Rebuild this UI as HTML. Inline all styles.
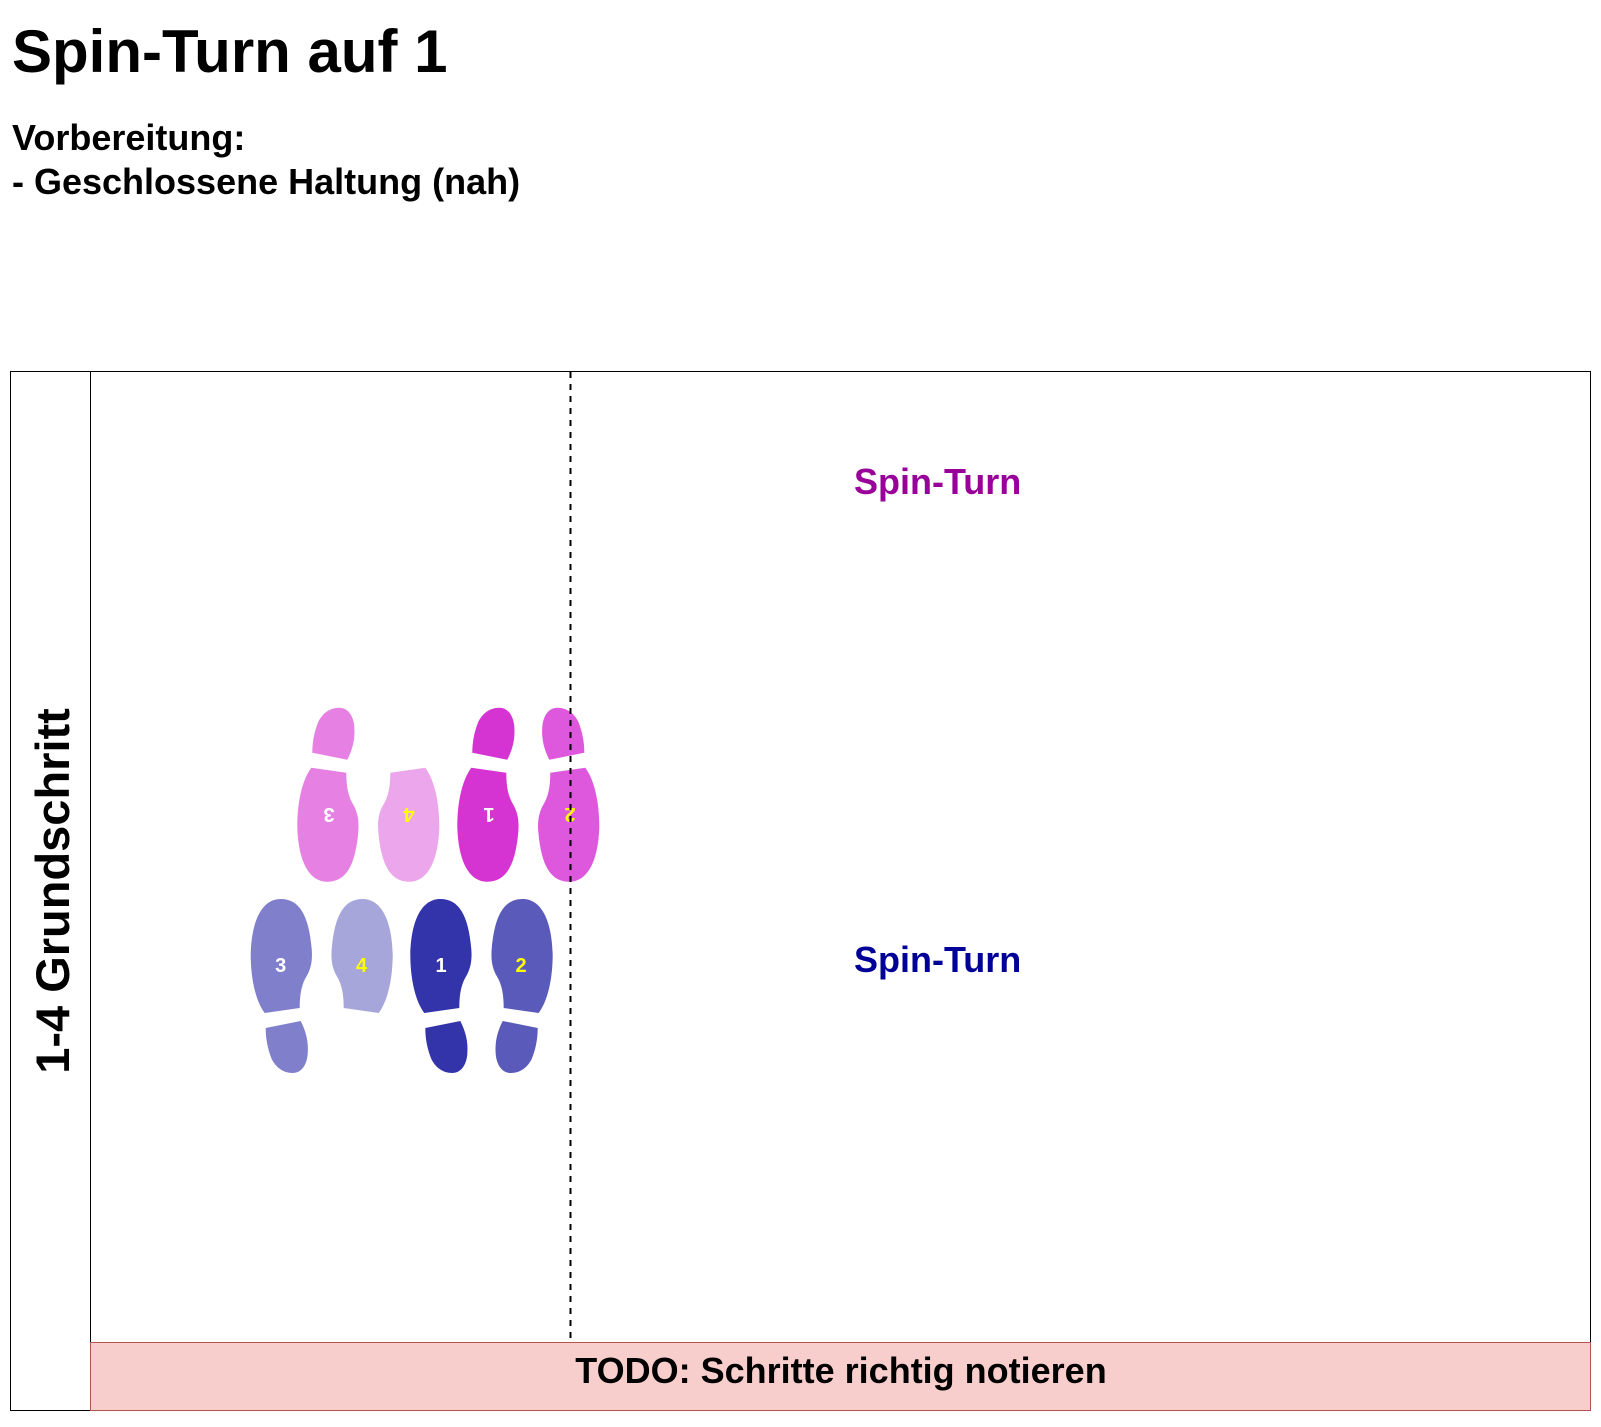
<!DOCTYPE html>
<html><head><meta charset="utf-8"><style>
html,body{margin:0;padding:0;background:#fff;}
body{width:1601px;height:1422px;overflow:hidden;}
</style></head><body>
<svg width="1601" height="1422" viewBox="0 0 1601 1422" xmlns="http://www.w3.org/2000/svg" font-family="Liberation Sans, Arial, sans-serif">
<defs>
<path id="sole" d="M30,0 C48,0 58,15 61,50 C62,62 60,70 56,77 C51,85 49,95 49,109 L14,114 C5,102 0,80 0,55 C1,20 12,0 30,0 Z"/>
<path id="heel" d="M15,129 L50,122 C55,132 58,142 57,155 C56,167 50,174 42,174 C32,174 25,168 21,160 C17,150 15,140 15,129 Z"/>
</defs>
<text x="12" y="72" font-size="60" font-weight="bold" fill="#000">Spin-Turn auf 1</text>
<text x="12" y="150" font-size="36" font-weight="bold" fill="#000">Vorbereitung:</text>
<text x="12" y="194" font-size="36" font-weight="bold" fill="#000">- Geschlossene Haltung (nah)</text>

<rect x="10.5" y="371.5" width="1580" height="1039" fill="#fff" stroke="#000" stroke-width="1"/>
<line x1="90.5" y1="371" x2="90.5" y2="1411" stroke="#000"/>
<rect x="90.5" y="1342.5" width="1500" height="68" fill="#f8cecc" stroke="#b85450"/>
<text x="841" y="1383" font-size="36" font-weight="bold" text-anchor="middle" fill="#000">TODO: Schritte richtig notieren</text>
<text transform="translate(69,891) rotate(-90)" font-size="47" font-weight="bold" text-anchor="middle" fill="#000">1-4 Grundschritt</text>

<text x="854" y="494" font-size="36" font-weight="bold" fill="#990099">Spin-Turn</text>
<text x="854" y="972" font-size="36" font-weight="bold" fill="#000099">Spin-Turn</text>

<g font-size="20" font-weight="bold" text-anchor="middle">
<g transform="translate(250.7,899)" fill="#7f7fcc"><use href="#sole"/><use href="#heel"/></g>
<text x="280.7" y="972" fill="#fff">3</text>
<g transform="translate(392.7,899) scale(-1,1)" fill="#a6a6da"><use href="#sole"/></g>
<text x="361.5" y="972" fill="#ffff00">4</text>
<g transform="translate(410.3,899)" fill="#3333aa"><use href="#sole"/><use href="#heel"/></g>
<text x="441" y="972" fill="#fff">1</text>
<g transform="translate(552.7,899) scale(-1,1)" fill="#5a5abb"><use href="#sole"/><use href="#heel"/></g>
<text x="521" y="972" fill="#ffff00">2</text>
<g transform="translate(297.3,881.7) scale(1,-1)" fill="#e680e3"><use href="#sole"/><use href="#heel"/></g>
<text transform="translate(329,808) rotate(180)" fill="#fff">3</text>
<g transform="translate(439.3,881.7) scale(-1,-1)" fill="#eca6ec"><use href="#sole"/></g>
<text transform="translate(409,808) rotate(180)" fill="#ffff00">4</text>
<g transform="translate(457.3,881.7) scale(1,-1)" fill="#d633d3"><use href="#sole"/><use href="#heel"/></g>
<text transform="translate(489,808) rotate(180)" fill="#fff">1</text>
<g transform="translate(599.3,881.7) scale(-1,-1)" fill="#dd58dd"><use href="#sole"/><use href="#heel"/></g>
<text transform="translate(570,808) rotate(180)" fill="#ffff00">2</text>
</g>

<line x1="570.5" y1="372" x2="570.5" y2="1342" stroke="#000" stroke-width="2" stroke-dasharray="6,6"/>
</svg>
</body></html>
